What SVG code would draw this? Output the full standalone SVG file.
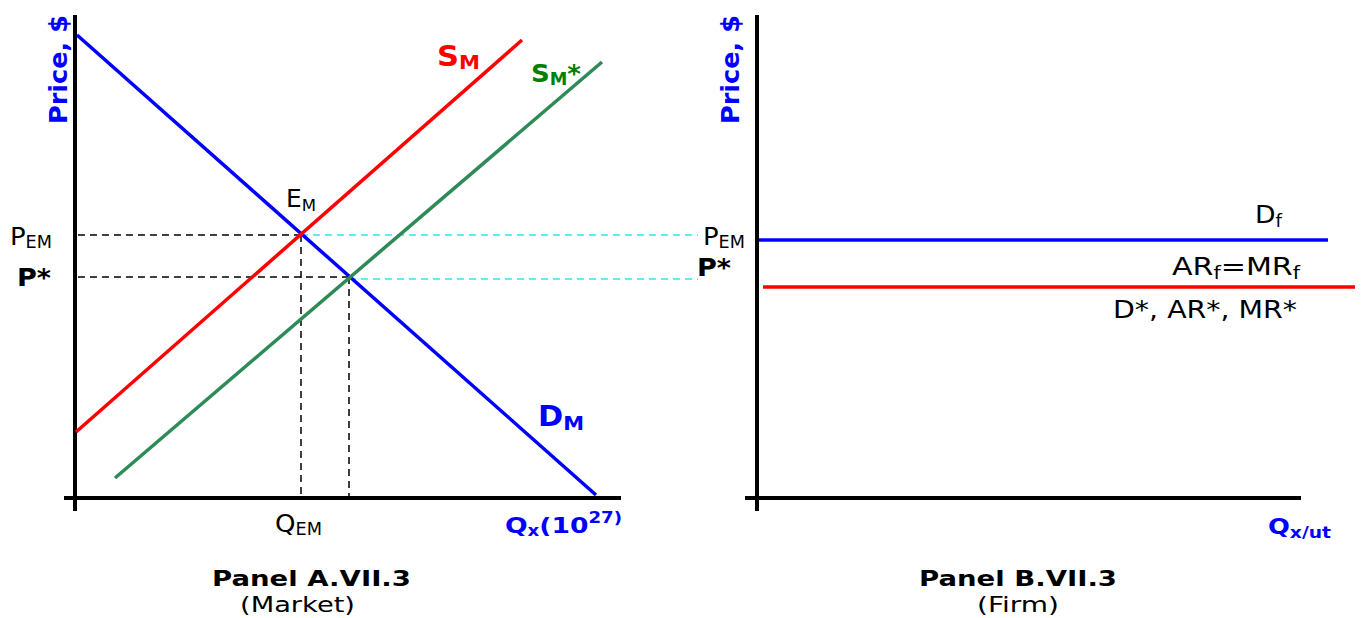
<svg xmlns="http://www.w3.org/2000/svg" width="1362" height="618" viewBox="0 0 1362 618">
<style>
text{font-family:"DejaVu Sans",Verdana,sans-serif;fill:#000}
.axis{stroke:#000;stroke-width:4;fill:none}
.curve{stroke-width:3.5;fill:none}
.dash{stroke:#000;stroke-width:1.5;stroke-dasharray:7,5;fill:none}
.cyan{stroke:#33e5f5;stroke-width:1.5;stroke-dasharray:7,5;fill:none}
.blue{fill:#0000ff}
.b{font-weight:bold}
</style>
<rect width="1362" height="618" fill="#fff"/>
<g id="axes">
<line class="axis" x1="75" y1="15" x2="75" y2="511"/>
<line class="axis" x1="64" y1="498" x2="621" y2="498"/>
<line class="axis" x1="757" y1="15" x2="757" y2="511"/>
<line class="axis" x1="745" y1="498" x2="1301" y2="498"/>
</g>
<g id="connectors">
<line class="dash" x1="78" y1="235" x2="301" y2="235"/>
<line class="dash" x1="78" y1="277" x2="349" y2="277"/>
<line class="dash" x1="301" y1="235" x2="301" y2="497"/>
<line class="dash" x1="349" y1="277" x2="349" y2="497"/>
<line class="cyan" x1="301" y1="235" x2="698" y2="235"/>
<line class="cyan" x1="349" y1="279" x2="698" y2="279"/>
</g>
<g id="DM"><line class="curve" stroke="#0000ff" x1="77" y1="35" x2="596" y2="495"/>
<text class="blue b" x="538" y="426" font-size="29" textLength="46" lengthAdjust="spacingAndGlyphs">D<tspan font-size="20" dy="4">M</tspan></text></g>
<g id="SM"><line class="curve" stroke="#ff0000" x1="76" y1="432" x2="522" y2="40"/>
<text class="b" x="437" y="66" font-size="29" style="fill:#ff0000" textLength="43" lengthAdjust="spacingAndGlyphs">S<tspan font-size="20" dy="3">M</tspan></text></g>
<g id="SMstar"><line class="curve" stroke="#2e8b57" x1="115" y1="478" x2="602" y2="62"/>
<text class="b" x="531" y="82" font-size="25" style="fill:#008000" textLength="50" lengthAdjust="spacingAndGlyphs">S<tspan font-size="17" dy="3">M</tspan><tspan dy="-3">*</tspan></text></g>
<g id="EM"><text x="286" y="207" font-size="24" textLength="30" lengthAdjust="spacingAndGlyphs">E<tspan font-size="16" dy="4">M</tspan></text></g>
<g id="leftLabels">
<text x="10" y="245" font-size="25" textLength="42" lengthAdjust="spacingAndGlyphs">P<tspan font-size="17" dy="3">EM</tspan></text>
<text class="b" x="17" y="286" font-size="24" textLength="34" lengthAdjust="spacingAndGlyphs">P*</text>
<text x="275" y="532" font-size="25" textLength="47" lengthAdjust="spacingAndGlyphs">Q<tspan font-size="17" dy="3">EM</tspan></text>
<text class="blue b" x="505" y="533" font-size="22" textLength="117" lengthAdjust="spacingAndGlyphs">Q<tspan font-size="15" dy="3">x</tspan><tspan dy="-3">(10</tspan><tspan font-size="15" dy="-10">27)</tspan></text>
<text class="blue b" transform="translate(67,124) rotate(-90)" font-size="25" textLength="109" lengthAdjust="spacingAndGlyphs">Price, $</text>
<text class="b" x="212" y="586" font-size="22" textLength="199" lengthAdjust="spacingAndGlyphs">Panel A.VII.3</text>
<text x="240" y="612" font-size="22" textLength="115" lengthAdjust="spacingAndGlyphs">(Market)</text>
</g>
<g id="Df"><line class="curve" stroke="#0000ff" x1="759" y1="240" x2="1328" y2="240"/>
<text x="1255" y="223" font-size="25" textLength="27" lengthAdjust="spacingAndGlyphs">D<tspan font-size="17" dy="4">f</tspan></text>
<text x="1172" y="275" font-size="25" textLength="128" lengthAdjust="spacingAndGlyphs">AR<tspan font-size="17" dy="4">f</tspan><tspan dy="-4">=MR</tspan><tspan font-size="17" dy="4">f</tspan></text></g>
<g id="Dstar"><line class="curve" stroke="#ff0000" x1="763" y1="287" x2="1355" y2="287"/>
<text x="1113" y="318" font-size="25" textLength="184" lengthAdjust="spacingAndGlyphs">D*, AR*, MR*</text></g>
<g id="rightLabels">
<text x="703" y="245" font-size="25" textLength="42" lengthAdjust="spacingAndGlyphs">P<tspan font-size="17" dy="3">EM</tspan></text>
<text class="b" x="697" y="276" font-size="24" textLength="34" lengthAdjust="spacingAndGlyphs">P*</text>
<text class="blue b" x="1268" y="534" font-size="22" textLength="63" lengthAdjust="spacingAndGlyphs">Q<tspan font-size="16" dy="4">x/ut</tspan></text>
<text class="blue b" transform="translate(739,124) rotate(-90)" font-size="25" textLength="109" lengthAdjust="spacingAndGlyphs">Price, $</text>
<text class="b" x="919" y="586" font-size="22" textLength="198" lengthAdjust="spacingAndGlyphs">Panel B.VII.3</text>
<text x="977" y="612" font-size="22" textLength="82" lengthAdjust="spacingAndGlyphs">(Firm)</text>
</g>
</svg>
